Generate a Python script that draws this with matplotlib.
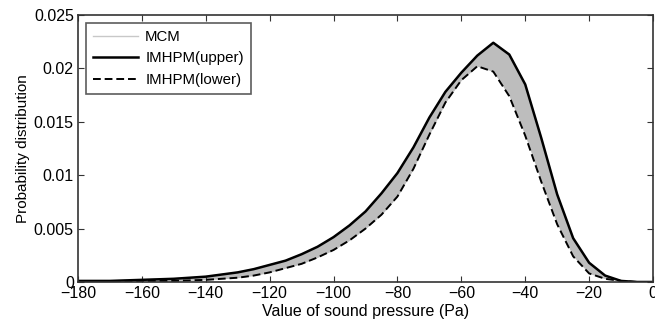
import numpy as np
import matplotlib.pyplot as plt

plt.rcParams['font.family'] = ['Liberation Sans', 'DejaVu Sans']

# sound pressure grid (Pa)
x = [-180, -170, -160, -150, -140, -130, -125, -120, -115, -110, -105, -100,
     -95, -90, -85, -80, -75, -70, -65, -60, -55, -50, -45, -40, -35, -30,
     -25, -20, -15, -10, -5, 0]

# IMHPM bounds
upper = [0.0001, 0.0001, 0.0002, 0.0003, 0.0005, 0.0009, 0.0012, 0.0016,
         0.0020, 0.0026, 0.0033, 0.0042, 0.0053, 0.0066, 0.0083, 0.0102,
         0.0126, 0.0154, 0.0178, 0.0196, 0.0212, 0.0224, 0.0213, 0.0185,
         0.0135, 0.0082, 0.0041, 0.0018, 0.0006, 0.0001, 0.0, 0.0]
lower = [0.0, 0.0, 0.0001, 0.0001, 0.0002, 0.0004, 0.0006, 0.0009,
         0.0013, 0.0017, 0.0023, 0.0030, 0.0039, 0.0050, 0.0063, 0.0080,
         0.0106, 0.0138, 0.0168, 0.0189, 0.0202, 0.0197, 0.0174, 0.0137,
         0.0094, 0.0054, 0.0024, 0.0008, 0.0003, 0.0001, 0.0, 0.0]

xticks = np.arange(-180, 1, 20)
yticks = np.arange(0, 0.0251, 0.005)

fig = plt.figure(figsize=(6.55, 3.26), dpi=100)
ax = fig.add_axes([0.119, 0.135, 0.878, 0.819])

# MCM envelope (dense gray curves)
ax.fill_between(x, lower, upper, color='#bdbdbd', lw=0)
ax.plot(x, upper, color='#c8c8c8', lw=1, label='MCM')
ax.plot(x, upper, color='black', lw=1.8, label='IMHPM(upper)')
ax.plot(x, lower, color='black', lw=1.4, ls=(0, (4, 2)), label='IMHPM(lower)')

ax.set_xlim(-180, 0)
ax.set_ylim(0, 0.025)
ax.set_xticks(xticks)
ax.set_yticks(yticks)
ax.set_yticklabels(['0', '0.005', '0.01', '0.015', '0.02', '0.025'])
ax.tick_params(direction='in', top=True, right=True, labelsize=11.5, length=4,
               color='#333333', pad=3)
for s in ax.spines.values():
    s.set_color('#333333')
    s.set_linewidth(1.2)

ax.set_xlabel('Value of sound pressure (Pa)', fontsize=11.5, labelpad=2)
ax.set_ylabel('Probability distribution', fontsize=11, labelpad=3)

leg = ax.legend(loc='upper left', bbox_to_anchor=(0.014, 0.97), fontsize=10.8,
                frameon=True, fancybox=False, borderaxespad=0, handlelength=3.0,
                labelspacing=0.5, borderpad=0.45, handletextpad=0.5)
leg.get_frame().set_edgecolor('#333333')
leg.get_frame().set_linewidth(1.2)

fig.savefig('out.png', dpi=100)
